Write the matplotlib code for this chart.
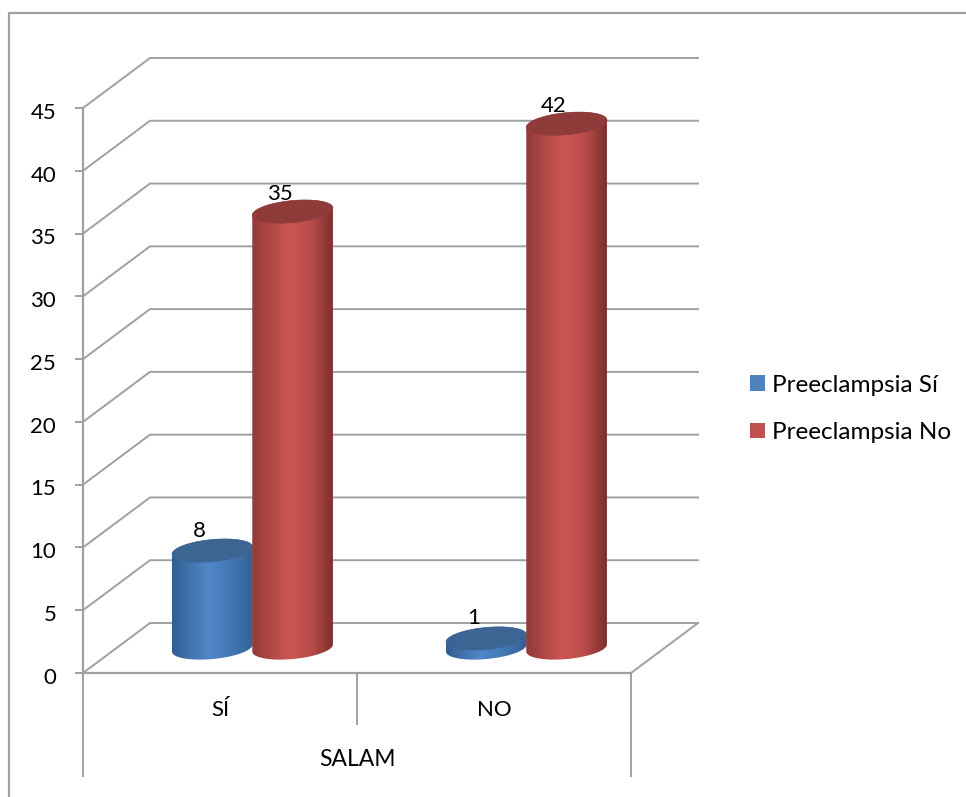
import numpy as np
from matplotlib import pyplot as plt
from matplotlib.colors import LinearSegmentedColormap
from matplotlib.lines import Line2D
from matplotlib.patches import Patch, Polygon
from matplotlib.transforms import ScaledTranslation

plt.rcParams['font.family'] = ['Lato', 'DejaVu Sans']

categories = ['SÍ', 'NO']
group_label = 'SALAM'
series_names = ['Preeclampsia Sí', 'Preeclampsia No']
preeclampsia_si = [8, 1]
preeclampsia_no = [35, 42]
y_ticks = [0, 5, 10, 15, 20, 25, 30, 35, 40, 45]

GRID = '#a0a0a0'
LW = 1.4
FONT = 16
LEGEND_FONT = 17.5

W, H = 966, 797
LEFT, RIGHT, TOP, BOTTOM = 83, 631, 108, 673  # plot front plane, pixels
A, B, TILT = 40.5, 11, np.radians(5.5)  # top ellipse of a cylinder, pixels

fig = plt.figure(figsize=(W / 100, H / 100), dpi=100, facecolor='white')
ax = fig.add_axes([LEFT / W, 1 - BOTTOM / H, (RIGHT - LEFT) / W, (BOTTOM - TOP) / H])
ax.set_facecolor('none')

px_x = 2 / (RIGHT - LEFT)  # data units per pixel
px_y = 45 / (BOTTOM - TOP)
depth_x = 67 * px_x
depth_y = 50 * px_y
top_base = depth_y / 2 - 3 * px_y


def ellipse_points(cx, cy, t):
    dx = A * np.cos(t) * np.cos(TILT) - B * np.sin(t) * np.sin(TILT)
    dy = A * np.cos(t) * np.sin(TILT) + B * np.sin(t) * np.cos(TILT)
    return np.column_stack([cx + dx * px_x, cy + dy * px_y])


def cylinder(x, value, shades, top_color):
    base = depth_y / 2
    t0 = np.arctan2(-B * np.sin(TILT), A * np.cos(TILT))
    upper = ellipse_points(x, top_base + value, np.linspace(t0, t0 + np.pi, 60))
    lower = ellipse_points(x, base, np.linspace(t0 + np.pi, t0 + 2 * np.pi, 60))
    body = Polygon(np.vstack([upper, lower]), transform=ax.transData, facecolor='none', edgecolor='none')
    ax.add_patch(body)
    half = 42 * px_x
    cmap = LinearSegmentedColormap.from_list('shade', shades)
    im = ax.imshow(np.linspace(0, 1, 256).reshape(1, -1), cmap=cmap, aspect='auto',
                   extent=(x - half, x + half, base - 2, base + value + 2), zorder=3)
    im.set_clip_path(body)
    ax.add_patch(Polygon(ellipse_points(x, top_base + value, np.linspace(0, 2 * np.pi, 120)),
                         facecolor=top_color, edgecolor=top_color, lw=0.4, zorder=3))


# back wall and side wall lines
for v in y_ticks:
    ax.plot([0, depth_x, 2 + depth_x], [v, v + depth_y, v + depth_y], color=GRID, lw=LW, clip_on=False, zorder=1)
ax.plot([2, 2 + depth_x], [0, depth_y], color=GRID, lw=LW, clip_on=False, zorder=1)

blue_shades = [(0, '#2f5a8a'), (0.15, '#3b6ba4'), (0.45, '#5087c9'), (0.7, '#4479b6'), (1, '#335f92')]
red_shades = [(0, '#8c3b39'), (0.2, '#ad4644'), (0.45, '#cd5553'), (0.72, '#b84c4a'), (1, '#752c2b')]

centers = [0, 1]
for c, si, no in zip(centers, preeclampsia_si, preeclampsia_no):
    cylinder(c + 0.472, si, blue_shades, '#3d6594')
    cylinder(c + 0.765, no, red_shades, '#8e3b3a')
    for x, v in ((c + 0.472, si), (c + 0.765, no)):
        gap = 17.5 if v > 20 else 20
        ax.text(x - 12.5 * px_x, top_base + v + gap * px_y, str(v), ha='center', va='center',
                fontsize=FONT, color='black', zorder=4)

ax.set_xlim(0, 2)
ax.set_ylim(0, 45)
for side in ('top', 'right'):
    ax.spines[side].set_visible(False)
for side in ('left', 'bottom'):
    ax.spines[side].set_color(GRID)
    ax.spines[side].set_linewidth(LW + 0.2)
ax.set_yticks(y_ticks)
ax.tick_params(axis='y', length=5.8, width=LW, color=GRID, labelsize=FONT, pad=13.5)
# the value labels sit a little below their ticks
for label in ax.get_yticklabels():
    label.set_transform(label.get_transform() + ScaledTranslation(0, -2 / 72, fig.dpi_scale_trans))
ax.set_xticks([0.5, 1.5], categories)
ax.tick_params(axis='x', length=0, labelsize=FONT, pad=19.5)

# category separators below the floor
ax.plot([1, 1], [0, -51 * px_y], color=GRID, lw=LW, clip_on=False)
ax.plot([0, 0], [0, -103 * px_y], color=GRID, lw=LW, clip_on=False)
ax.plot([2, 2], [0, -103 * px_y], color=GRID, lw=LW, clip_on=False)
ax.text(1, -87 * px_y, group_label, ha='center', va='center', fontsize=FONT + 0.5)

# outer chart frame, cut off by the picture edge
fig.add_artist(Line2D([8.5 / W, 8.5 / W, 1], [0, 1 - 12.5 / H, 1 - 12.5 / H], color=GRID, lw=LW + 0.2))

handles = [Patch(facecolor='#4f81bd', label=series_names[0]), Patch(facecolor='#c0504d', label=series_names[1])]
fig.legend(handles=handles, loc='upper left', bbox_to_anchor=(741 / W, 1 - 366 / H), frameon=False,
           fontsize=LEGEND_FONT, handlelength=0.62, handleheight=0.62, handletextpad=0.29, labelspacing=1.08,
           borderpad=0.366, borderaxespad=0)

plt.savefig('out.png', dpi=100)
